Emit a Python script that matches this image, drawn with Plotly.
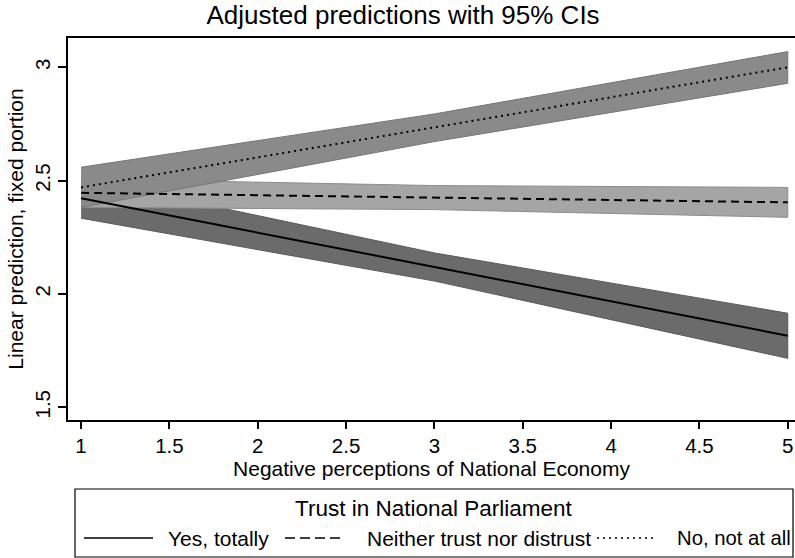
import plotly.graph_objects as go

# ---- data ----
x_vals = [1, 3, 5]
yes_mid = [2.422, 2.119, 1.816]
yes_lo = [2.334, 2.057, 1.716]
yes_hi = [2.510, 2.181, 1.915]
nei_mid = [2.446, 2.425, 2.404]
nei_lo = [2.382, 2.372, 2.338]
nei_hi = [2.508, 2.478, 2.470]
no_mid = [2.470, 2.735, 3.000]
no_lo = [2.382, 2.672, 2.929]
no_hi = [2.559, 2.794, 3.069]
series_names = ["Yes, totally", "Neither trust nor distrust", "No, not at all"]
x_ticks = [1, 1.5, 2, 2.5, 3, 3.5, 4, 4.5, 5]
y_ticks = [1.5, 2, 2.5, 3]

FONT = "Arial, Liberation Sans, sans-serif"
W, H = 795, 558
L, R, T, B = 68, 0, 38, 138
PW, PH = W - L - R, H - T - B


def px(x):
    return (x - L) / PW


def py(y):
    return (H - B - y) / PH


fig = go.Figure()

bands = [
    (yes_lo, yes_hi, "#6b6b6b", "#5a5a5a"),
    (nei_lo, nei_hi, "#a5a5a5", "#8c8c8c"),
    (no_lo, no_hi, "#8a8a8a", "#767676"),
]
for lo, hi, fill, edge in bands:
    fig.add_trace(go.Scatter(
        x=x_vals + x_vals[::-1], y=hi + lo[::-1],
        fill="toself", fillcolor=fill, mode="lines",
        line=dict(color=edge, width=1), showlegend=False, hoverinfo="skip"))

lines = [
    (yes_mid, "solid"),
    (nei_mid, "8px,5px"),
    (no_mid, "2px,4px"),
]
for (mid, dash), name in zip(lines, series_names):
    fig.add_trace(go.Scatter(
        x=x_vals, y=mid, mode="lines", name=name,
        line=dict(color="black", width=2, dash=dash), showlegend=False))

fig.update_layout(
    width=W, height=H,
    margin=dict(l=L, r=R, t=T, b=B, autoexpand=False),
    paper_bgcolor="white", plot_bgcolor="white",
    font=dict(family=FONT, color="black", size=20),
    title=dict(text="Adjusted predictions with 95% CIs", x=0.507, xref="container",
               xanchor="center", y=1 - 15 / H, yanchor="middle",
               font=dict(size=26, family=FONT, color="black")),
    showlegend=False,
)
fig.update_xaxes(
    range=[0.926, 5.041], tickvals=x_ticks, ticktext=[f"{v:g}" for v in x_ticks],
    showline=True, linecolor="black", linewidth=1.5, mirror=True,
    ticks="outside", ticklen=7, tickwidth=1.5, tickcolor="black",
    showgrid=False, zeroline=False, tickfont=dict(size=20.5), automargin=False,
    title=dict(text="Negative perceptions of National Economy", font=dict(size=21), standoff=1),
)
fig.update_yaxes(
    range=[1.444, 3.129], tickvals=y_ticks, ticktext=[f"{v:g}" for v in y_ticks],
    showline=True, linecolor="black", linewidth=1.5, mirror=False,
    ticks="outside", ticklen=8, tickwidth=1.5, tickcolor="black",
    showgrid=False, zeroline=False, tickangle=-90, tickfont=dict(size=20.5), automargin=False,
    title=dict(text="Linear prediction, fixed portion", font=dict(size=21), standoff=2),
)

# ---- custom legend ----
fig.add_shape(type="rect", xref="paper", yref="paper",
              x0=px(75), x1=px(793), y0=py(557), y1=py(489),
              line=dict(color="black", width=1.2), fillcolor="rgba(0,0,0,0)")
fig.add_annotation(text="Trust in National Parliament", xref="paper", yref="paper",
                   x=px(434), y=py(508), xanchor="center", yanchor="middle",
                   showarrow=False, font=dict(size=22.5))
leg_samples = [(84, 153, "solid", 166, 21), (285, 342, "10px,5px", 365, 21),
               (597, 655, "2px,4px", 675, 20.3)]
for (x0, x1, dash, tx, fs), name in zip(leg_samples, series_names):
    fig.add_shape(type="line", xref="paper", yref="paper",
                  x0=px(x0), x1=px(x1), y0=py(538), y1=py(538),
                  line=dict(color="black", width=1.5, dash=dash))
    fig.add_annotation(text=name, xref="paper", yref="paper",
                       x=px(tx), y=py(538), xanchor="left", yanchor="middle",
                       showarrow=False, font=dict(size=fs))

fig.write_html("out.html", config={"displayModeBar": False},
               post_script="document.body.style.margin='0';document.body.style.overflow='hidden';")
